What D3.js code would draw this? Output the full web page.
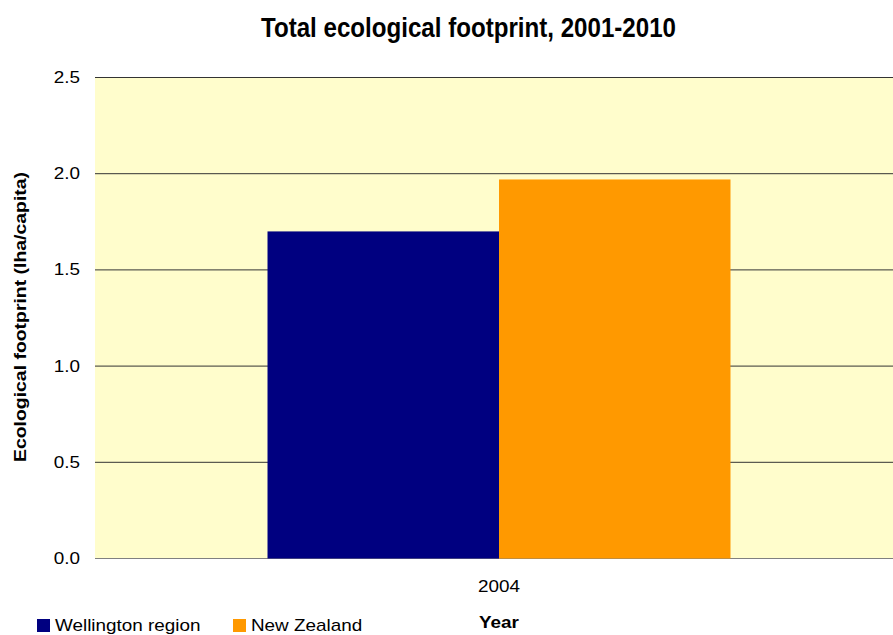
<!DOCTYPE html>
<html>
<head>
<meta charset="utf-8">
<script src="https://cdn.jsdelivr.net/npm/d3@7"></script>
<style>
  body { margin: 0; background: #fff; }
  text { font-family: "Liberation Sans", Arial, sans-serif; fill: #000; }
</style>
</head>
<body>
<div id="chart"></div>
<script>
var years = ["2004"];
var seriesNames = ["Wellington region", "New Zealand"];
var seriesColors = ["#000080", "#FF9900"];
var wellington = [1.70];
var newZealand = [1.97];
var yTicks = [0, 0.5, 1.0, 1.5, 2.0, 2.5];

var width = 893, height = 635;
var margin = { left: 95, right: -10, top: 77.5, bottom: 76.5 };
var sx = 1.18; // text in the original is a bit wider than plain Arial

var svg = d3.select("#chart").append("svg")
    .attr("width", width)
    .attr("height", height);

var x = d3.scaleBand().domain(years)
    .range([margin.left, width - margin.right])
    .paddingOuter(0.3726).paddingInner(0);
var x1 = d3.scaleBand().domain(seriesNames).range([0, x.bandwidth()]);
var y = d3.scaleLinear().domain([0, 2.5]).range([height - margin.bottom, margin.top]);

// helper: text stretched horizontally round its anchor point
function label(parent, px, py, anchor, str, size, weight) {
    return parent.append("g")
        .attr("transform", "translate(" + px + "," + py + ") scale(" + sx + ",1)")
      .append("text")
        .attr("text-anchor", anchor)
        .style("font-size", size + "px")
        .style("font-weight", weight || "normal")
        .text(str);
}

// plot background
svg.append("rect")
    .attr("x", margin.left).attr("y", y(2.5))
    .attr("width", width - margin.left - margin.right)
    .attr("height", y(0) - y(2.5))
    .attr("fill", "#FFFDCC");

// gridlines
svg.append("g").selectAll("line").data(yTicks).join("line")
    .attr("x1", margin.left).attr("x2", width)
    .attr("y1", d => y(d)).attr("y2", d => y(d))
    .attr("stroke", d => d === 0 ? "#808080" : "#333")
    .attr("stroke-width", 1);

// bars
var rows = years.map((yr, i) => ({ year: yr, values: [wellington[i], newZealand[i]] }));
svg.append("g").selectAll("g").data(rows).join("g")
    .attr("transform", d => "translate(" + x(d.year) + ",0)")
  .selectAll("rect").data(d => d.values.map((v, j) => ({ name: seriesNames[j], v: v, c: seriesColors[j] })))
  .join("rect")
    .attr("x", d => x1(d.name))
    .attr("width", x1.bandwidth())
    .attr("y", d => y(d.v))
    .attr("height", d => y(0) - y(d.v))
    .attr("fill", d => d.c);

// y tick labels
yTicks.forEach(function (t) {
    label(svg, 80, y(t) + 5.5, "end", d3.format(".1f")(t), 16);
});

// x tick labels
years.forEach(function (yr) {
    label(svg, x(yr) + x.bandwidth() / 2, 592, "middle", yr, 16);
});

// title
svg.append("text")
    .attr("x", 468.5).attr("y", 37)
    .attr("text-anchor", "middle")
    .attr("textLength", 415).attr("lengthAdjust", "spacingAndGlyphs")
    .style("font-size", "28px").style("font-weight", "bold")
    .text("Total ecological footprint, 2001-2010");

// axis titles
label(svg, x(years[0]) + x.bandwidth() / 2, 628, "middle", "Year", 16, "bold");

svg.append("text")
    .attr("transform", "translate(26,317) rotate(-90)")
    .attr("text-anchor", "middle")
    .attr("textLength", 290).attr("lengthAdjust", "spacingAndGlyphs")
    .style("font-size", "16px").style("font-weight", "bold")
    .text("Ecological footprint (lha/capita)");

// legend
var legendX = [37, 233];
seriesNames.forEach(function (name, i) {
    svg.append("rect")
        .attr("x", legendX[i]).attr("y", 619)
        .attr("width", 13).attr("height", 13)
        .attr("fill", seriesColors[i]);
    label(svg, legendX[i] + 18, 631, "start", name, 16);
});
</script>
</body>
</html>
